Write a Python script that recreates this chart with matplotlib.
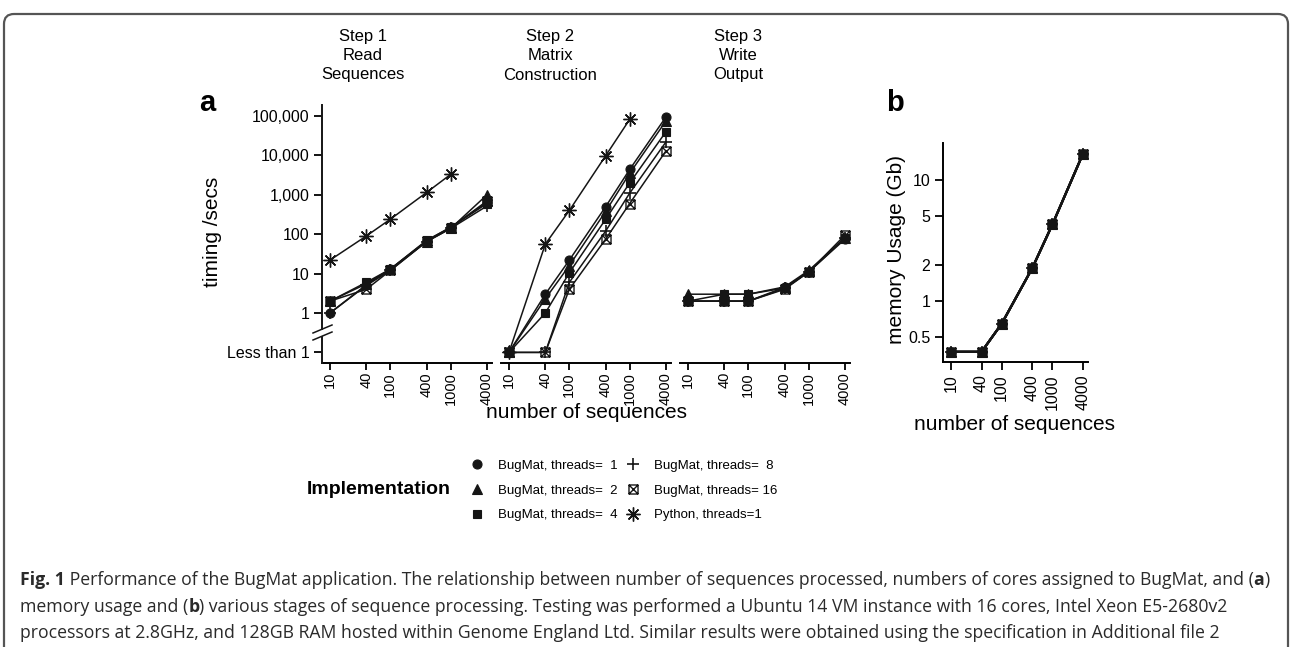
import matplotlib
matplotlib.use('Agg')
import matplotlib.pyplot as plt
import numpy as np
from matplotlib.path import Path
from matplotlib.lines import Line2D
from matplotlib.patches import FancyBboxPatch
from matplotlib.transforms import IdentityTransform
from matplotlib import font_manager as fm
from matplotlib.ticker import NullLocator, FixedLocator, FixedFormatter

W, H = 1292, 647
plt.rcParams['font.family'] = ['Liberation Sans', 'DejaVu Sans']
fig = plt.figure(figsize=(W / 100, H / 100), dpi=100)

def fx(x):
    return x / W

def fy(y):
    return 1 - y / H

# ---------------- data ----------------
n_seq = [10, 40, 100, 400, 1000, 4000]
n_seq_py = [10, 40, 100, 400, 1000]
n_labels = ['10', '40', '100', '400', '1000', '4000']
LESS_THAN_1 = 0.1  # plotted position of the "Less than 1" category

steps = ['Step 1\nRead\nSequences', 'Step 2\nMatrix\nConstruction', 'Step 3\nWrite\nOutput']

read_t1 = [1, 5.2, 13, 68, 150, 650]
read_t2 = [2, 5.5, 13, 65, 140, 1000]
read_t4 = [2, 6, 13, 70, 150, 600]
read_t8 = [1, 5, 12, 65, 140, 520]
read_t16 = [2, 4, 12, 66, 145, 700]
read_py = [22, 90, 240, 1150, 3300]

mat_t1 = [0.1, 3, 22, 500, 4400, 95000]
mat_t2 = [0.1, 2.3, 16, 380, 3500, 75000]
mat_t4 = [0.1, 1, 10.5, 240, 2000, 40000]
mat_t8 = [0.1, 0.1, 6, 120, 1100, 22000]
mat_t16 = [0.1, 0.1, 4, 75, 600, 13000]
mat_py = [0.1, 56, 400, 9800, 82000]

out_t1 = [2, 2, 2, 4.5, 11, 75]
out_t2 = [3, 3, 3, 4.6, 12, 80]
out_t4 = [2, 3, 3, 4.3, 11, 80]
out_t8 = [2, 2, 2, 4.2, 11, 82]
out_t16 = [2, 2, 2, 4.0, 11, 95]

mem_t1 = [0.38, 0.38, 0.65, 1.87, 4.3, 16.5]
mem_t2 = [0.38, 0.38, 0.65, 1.87, 4.3, 16.5]
mem_t4 = [0.38, 0.38, 0.65, 1.87, 4.3, 16.5]
mem_t8 = [0.38, 0.38, 0.65, 1.87, 4.3, 16.5]
mem_t16 = [0.38, 0.38, 0.65, 1.87, 4.3, 16.5]

timing_ticks = [0.1, 1, 10, 100, 1000, 10000, 100000]
timing_labels = ['Less than 1', '1', '10', '100', '1,000', '10,000', '100,000']
mem_ticks = [0.5, 1, 2, 5, 10]
mem_labels = ['0.5', '1', '2', '5', '10']

series_labels = ['BugMat, threads=  1', 'BugMat, threads=  2', 'BugMat, threads=  4',
                 'BugMat, threads=  8', 'BugMat, threads= 16', 'Python, threads=1']

# ---------------- styles ----------------
boxx = Path([(-1, -1), (1, -1), (1, 1), (-1, 1), (-1, -1), (-1, -1), (1, 1), (-1, 1), (1, -1)],
            [Path.MOVETO, Path.LINETO, Path.LINETO, Path.LINETO, Path.CLOSEPOLY,
             Path.MOVETO, Path.LINETO, Path.MOVETO, Path.LINETO])
INK = '#151515'
styles = [
    dict(marker='o', ms=6.5, mfc=INK, mec=INK, mew=0.8),
    dict(marker='^', ms=7, mfc=INK, mec=INK, mew=0.8),
    dict(marker='s', ms=6, mfc=INK, mec=INK, mew=0.8),
    dict(marker='+', ms=9, mfc='none', mec=INK, mew=1.2),
    dict(marker=boxx, ms=6.5, mfc='none', mec=INK, mew=1.0),
    dict(marker=(8, 2, 0), ms=10, mfc='none', mec=INK, mew=1.0),
]

# ---------------- geometry ----------------
TOP_A, BOT_A = 105, 363
Y1_PIX, DEC_A = 313, 39.4
t10 = [330, 509, 688]
t4k = [487, 666, 845]

def xlims(L, R, a, b):
    d = (b - a) / np.log10(400)
    return 10 ** (1 - (a - L) / d), 10 ** (np.log10(4000) + (R - b) / d)

def make_ax(L, R, T, B):
    return fig.add_axes([fx(L), fy(B), fx(R) - fx(L), fy(T) - fy(B)])

step_data = [
    [read_t1, read_t2, read_t4, read_t8, read_t16, read_py],
    [mat_t1, mat_t2, mat_t4, mat_t8, mat_t16, mat_py],
    [out_t1, out_t2, out_t4, out_t8, out_t16, None],
]
title_x = [363, 550, 738]
TICK_FS = 11.5

for i in range(3):
    L, R = t10[i] - 8, t4k[i] + 5
    ax = make_ax(L, R, TOP_A, BOT_A)
    ax.set_xscale('log')
    ax.set_yscale('log')
    ax.set_xlim(*xlims(L, R, t10[i], t4k[i]))
    ax.set_ylim(10 ** (-(BOT_A - Y1_PIX) / DEC_A), 10 ** ((Y1_PIX - TOP_A) / DEC_A))
    for k, ys in enumerate(step_data[i]):
        if ys is None:
            continue
        xs = n_seq_py if k == 5 else n_seq
        ax.plot(xs, ys, color=INK, lw=1.1, clip_on=False, zorder=3, **styles[k])
    for s in ['top', 'right', 'left']:
        ax.spines[s].set_visible(False)
    ax.spines['bottom'].set_linewidth(1.4)
    ax.xaxis.set_major_locator(FixedLocator(n_seq))
    ax.xaxis.set_major_formatter(FixedFormatter(n_labels))
    ax.xaxis.set_minor_locator(NullLocator())
    ax.yaxis.set_minor_locator(NullLocator())
    ax.tick_params(axis='x', direction='out', length=5, width=1.3, labelsize=10.5,
                   labelrotation=90, pad=1.5)
    ax.patch.set_alpha(0)
    if i == 0:
        ax.yaxis.set_major_locator(FixedLocator(timing_ticks))
        ax.yaxis.set_major_formatter(FixedFormatter(timing_labels))
        ax.tick_params(axis='y', direction='out', length=6, width=1.3, labelsize=TICK_FS, pad=3)
    else:
        ax.yaxis.set_major_locator(NullLocator())
    # step title
    for j, line in enumerate(steps[i].split('\n')):
        fig.text(fx(title_x[i]), fy(37 + 19 * j), line, ha='center', va='center', fontsize=12)

# y axis line of panel a with a break between "1" and "Less than 1"
AX_X = 322
fig.add_artist(Line2D([fx(AX_X), fx(AX_X)], [fy(TOP_A), fy(329)], color=INK, lw=1.4))
fig.add_artist(Line2D([fx(AX_X), fx(AX_X)], [fy(337), fy(BOT_A)], color=INK, lw=1.4))
for off in (0, 7):
    fig.add_artist(Line2D([fx(313), fx(332)], [fy(333 + off), fy(325 + off)], color=INK, lw=1.1))

fig.text(fx(213), fy(232), 'timing /secs', rotation=90, ha='center', va='center', fontsize=15)
fig.text(fx(587), fy(413), 'number of sequences', ha='center', va='center', fontsize=15)
fig.text(fx(207), fy(103), 'a', ha='center', va='center', fontsize=21, fontweight='bold')

# ---------------- panel b ----------------
Lb, Rb, Tb, Bb = 943, 1088, 143, 362
axb = make_ax(Lb, Rb, Tb, Bb)
axb.set_xscale('log')
axb.set_yscale('log')
axb.set_xlim(*xlims(Lb, Rb, 951, 1083))
axb.set_ylim(10 ** (-(Bb - 301) / 121), 10 ** ((301 - Tb) / 121))
for k, ys in enumerate([mem_t1, mem_t2, mem_t4, mem_t8, mem_t16]):
    axb.plot(n_seq, ys, color=INK, lw=1.6, clip_on=False, zorder=3, **styles[k])
for s in ['top', 'right']:
    axb.spines[s].set_visible(False)
for s in ['left', 'bottom']:
    axb.spines[s].set_linewidth(1.4)
axb.xaxis.set_major_locator(FixedLocator(n_seq))
axb.xaxis.set_major_formatter(FixedFormatter(n_labels))
axb.xaxis.set_minor_locator(NullLocator())
axb.yaxis.set_major_locator(FixedLocator(mem_ticks))
axb.yaxis.set_major_formatter(FixedFormatter(mem_labels))
axb.yaxis.set_minor_locator(NullLocator())
axb.tick_params(axis='x', direction='out', length=6, width=1.3, labelsize=TICK_FS,
                labelrotation=90, pad=3)
axb.tick_params(axis='y', direction='out', length=6, width=1.3, labelsize=TICK_FS, pad=3)
axb.patch.set_alpha(0)
fig.text(fx(897), fy(250), 'memory Usage (Gb)', rotation=90, ha='center', va='center', fontsize=15)
fig.text(fx(1015), fy(425), 'number of sequences', ha='center', va='center', fontsize=15)
fig.text(fx(895), fy(103), 'b', ha='center', va='center', fontsize=21, fontweight='bold')

# ---------------- legend ----------------
handles = [Line2D([], [], ls='none', color=INK, **st) for st in styles]
LEG_FS = 9.5
leg = fig.legend(handles, series_labels, ncol=2, frameon=False, fontsize=LEG_FS,
                 loc='upper left', bbox_to_anchor=(fx(470.5), fy(459.5)), borderaxespad=0,
                 borderpad=0, handlelength=1.0, handletextpad=1.05, columnspacing=0.72,
                 labelspacing=0.95)
fig.text(fx(451), fy(489), 'Implementation', ha='right', va='center', fontsize=14,
         fontweight='bold')

# ---------------- caption ----------------
def available(name):
    try:
        fm.findfont(fm.FontProperties(family=name), fallback_to_default=False)
        return True
    except Exception:
        return False

cap_font = 'Liberation Sans'
for cand in ['Liberation Sans Narrow', 'DejaVu Sans Condensed', 'Open Sans']:
    if available(cand):
        cap_font = cand
        break

caption = [
    [('Fig. 1', 'bold'), (' Performance of the BugMat application. The relationship between number of sequences processed, numbers of cores assigned to BugMat, and (', 'normal'), ('a', 'bold'), (')', 'normal')],
    [('memory usage and (', 'normal'), ('b', 'bold'), (') various stages of sequence processing. Testing was performed a Ubuntu 14 VM instance with 16 cores, Intel Xeon E5-2680v2', 'normal')],
    [('processors at 2.8GHz, and 128GB RAM hosted within Genome England Ltd. Similar results were obtained using the specification in Additional file 2', 'normal')],
]
renderer = fig.canvas.get_renderer()

def piece_width(text, weight, size):
    t1 = fig.text(0, 0, '|' + text + '|', fontsize=size, fontweight=weight, family=cap_font)
    t2 = fig.text(0, 0, '||', fontsize=size, fontweight=weight, family=cap_font)
    w = t1.get_window_extent(renderer).width - t2.get_window_extent(renderer).width
    t1.remove()
    t2.remove()
    return w

ref = 10.0
w_line1 = sum(piece_width(t, wt, ref) for t, wt in caption[0])
cap_fs = ref * (1272 - 20) / w_line1
CAP_COLOR = '#2a2a2a'
for li, line in enumerate(caption):
    x = 20.0
    yb = [585, 612, 638][li]
    for text, wt in line:
        fig.text(fx(x), fy(yb), text, fontsize=cap_fs, fontweight=wt, family=cap_font,
                 ha='left', va='baseline', color=CAP_COLOR)
        x += piece_width(text, wt, cap_fs)

# ---------------- border ----------------
border = FancyBboxPatch((4, -60), W - 8, H - 14 + 60, boxstyle='round,pad=0,rounding_size=10',
                        transform=IdentityTransform(), fill=False, lw=1.6, ec='#555555')
fig.add_artist(border)

fig.savefig('out.png', dpi=100)
